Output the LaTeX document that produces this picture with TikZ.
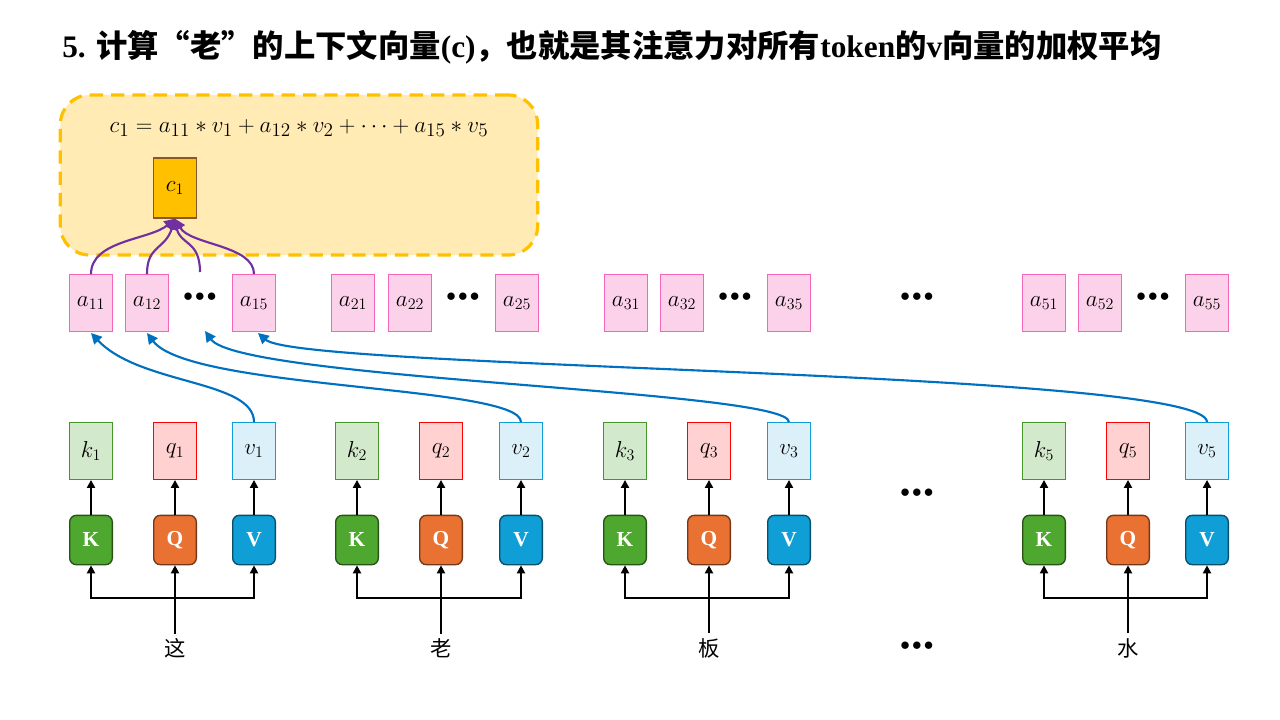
\documentclass[tikz,border=0pt]{standalone}
\usepackage{fontspec}
\setmainfont{Liberation Serif}
\newfontfamily\cjk{Noto Sans CJK SC}
\usetikzlibrary{arrows.meta}
\definecolor{kfill}{HTML}{4EA72E}\definecolor{qfill}{HTML}{E97132}\definecolor{vfill}{HTML}{0F9ED5}
\definecolor{bluel}{HTML}{0070C0}\definecolor{purp}{HTML}{7030A0}
\definecolor{ybox}{HTML}{FFEBB3}\definecolor{ydash}{HTML}{FFC000}
\newcommand{\bdots}{\raisebox{0.15ex}{\fontsize{15}{15}\selectfont$\bullet\mkern-2mu\bullet\mkern-2mu\bullet$}}
\begin{document}
\begin{tikzpicture}[x=0.75pt,y=-0.75pt,
 vec/.style={draw,minimum width=32pt,minimum height=43pt,inner sep=0pt,font=\fontsize{18}{18}\selectfont},
 kv/.style={vec,draw=kfill!90!black,fill=kfill!25},
 qv/.style={vec,draw=red,fill=red!18},
 vv/.style={vec,draw=vfill,fill=vfill!15},
 av/.style={vec,draw=magenta!60,fill=magenta!18},
 mat/.style={draw,rounded corners=5pt,line width=1pt,minimum width=32pt,minimum height=37pt,inner sep=0pt,text=white,font=\bfseries\fontsize{16}{16}\selectfont},
 ar/.style={-{Triangle[length=6pt,width=6pt]},line width=1.6pt},
 bl/.style={-{Triangle[length=8pt,width=8pt]},line width=1.6pt,bluel},
 pl/.style={-{Triangle[length=8pt,width=8pt]},line width=1.6pt,purp},
 dts/.style={inner sep=0pt}]
\useasboundingbox (0,0) rectangle (1280,720);
\node[anchor=west,inner sep=0pt,font=\fontsize{23.5}{24}\bfseries] (title) at (62,47) {5. {\cjk 计算“老”的上下文向量}(c){\cjk ，也就是其注意力对所有}token{\cjk 的}v{\cjk 向量的加权平均}};
\node[draw=ydash,fill=ybox,dashed,dash pattern=on 10pt off 6pt,line width=2.4pt,rounded corners=22pt,minimum width=358pt,minimum height=120pt] (yb) at (299,175) {};
\node[font=\fontsize{19}{19}\selectfont] (eq) at (299,128) {$c_1=a_{11}*v_1+a_{12}*v_2+\cdots+a_{15}*v_5$};
\node[vec,draw=brown!70!black,line width=1pt,fill=ydash,minimum height=45pt] (c1) at (175,188) {$c_1$};
% a nodes
\foreach \n/\x/\l in {a11/91/11,a12/147/12,a15/254/15,a21/353/21,a22/410/22,a25/517/25,a31/626/31,a32/682/32,a35/789/35,a51/1044/51,a52/1100/52,a55/1207/55}
  \node[av] (\n) at (\x,303) {$a_{\l}$};
\foreach \n/\x in {d1/200,d2/463,d3/735,d4/917,d5/1153}
  \node[dts] (\n) at (\x,298) {\bdots};
\coordinate (d1t) at (200,272);
\coordinate (d1b) at (205,331);
% groups
\foreach \g/\xk/\xq/\xv/\i/\w in {1/91/175/254/1/这,2/357/441/521/2/老,3/625/709/789/3/板,5/1044/1128/1207/5/水}{
  \node[kv] (k\g) at (\xk,451) {$k_{\i}$};
  \node[qv] (q\g) at (\xq,451) {$q_{\i}$};
  \node[vv] (v\g) at (\xv,451) {$v_{\i}$};
  \node[mat,fill=kfill,draw=kfill!50!black] (K\g) at (\xk,540) {K};
  \node[mat,fill=qfill,draw=qfill!50!black] (Q\g) at (\xq,540) {Q};
  \node[mat,fill=vfill,draw=vfill!50!black] (V\g) at (\xv,540) {V};
  \node[font=\cjk\fontsize{16}{16}\selectfont] (t\g) at (\xq,648) {\w};
  \coordinate (j\g) at (\xq,598);
  \draw[ar] (K\g) -- (k\g); \draw[ar] (Q\g) -- (q\g); \draw[ar] (V\g) -- (v\g);
  \draw[line width=1.6pt] (t\g.north) -- (j\g);
  \draw[ar] (j\g) -| (K\g.south);
  \draw[ar] (j\g) -| (V\g.south);
  \draw[ar] (j\g) -- (Q\g.south);
}
\node[dts] (d6) at (917,494) {\bdots};
\node[dts] (d7) at (917,647) {\bdots};
% blue curves
\draw[bl] (v1.north) .. controls (254,380) and (140,385) .. (91,333);
\draw[bl] (v2.north) .. controls (521,385) and (190,390) .. (147,333);
\draw[bl] (v3.north) .. controls (789,390) and (240,380) .. (d1b);
\draw[bl] (v5.north) .. controls (1207,370) and (300,370) .. (258,333);
% purple
\draw[pl] (a11.north) .. controls (91,240) and (150,240) .. (c1.south);
\draw[pl] (a12.north) .. controls (147,245) and (165,250) .. (c1.south);
\draw[pl] (d1t) .. controls (200,240) and (180,245) .. (c1.south);
\draw[pl] (a15.north) .. controls (254,245) and (190,245) .. (c1.south);
\end{tikzpicture}
\end{document}
